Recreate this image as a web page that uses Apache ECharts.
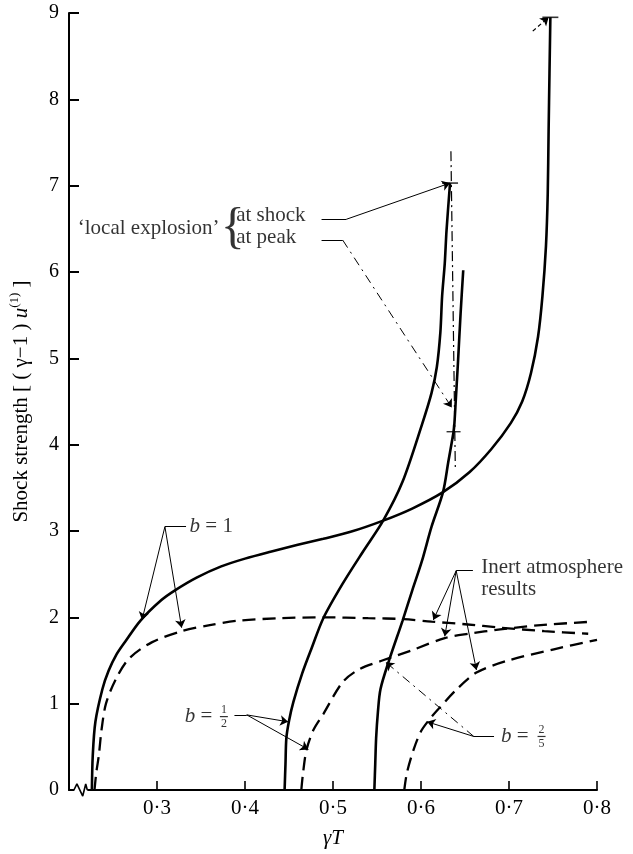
<!DOCTYPE html>
<html>
<head>
<meta charset="utf-8">
<script src="https://cdn.jsdelivr.net/npm/echarts@6/dist/echarts.min.js"></script>
<style>html,body{margin:0;padding:0;background:#fff}#c{width:633px;height:854px}</style>
</head>
<body>
<div id="c"></div>
<script>
// ---- data ----
const xTicks = [0.2, 0.3, 0.4, 0.5, 0.6, 0.7, 0.8];
const yTicks = [0, 1, 2, 3, 4, 5, 6, 7, 8, 9];

const solidB1 = [[0.226,0],[0.227,0.4],[0.230,0.79],[0.238,1.17],[0.245,1.38],[0.254,1.57],[0.264,1.72],[0.281,1.96],[0.305,2.2],[0.320,2.31],[0.345,2.46],[0.373,2.59],[0.40,2.68],[0.429,2.76],[0.46,2.84],[0.489,2.91],[0.52,2.99],[0.557,3.12],[0.59,3.26],[0.625,3.45],[0.655,3.68],[0.68,3.95],[0.702,4.25],[0.715,4.5],[0.725,4.83],[0.733,5.25],[0.738,5.72],[0.742,6.3],[0.744,6.9],[0.745,7.63],[0.746,8.3],[0.747,8.95]];
const solidBHalf = [[0.445,0],[0.446,0.3],[0.447,0.6],[0.450,0.8],[0.455,1.02],[0.465,1.35],[0.476,1.65],[0.489,1.99],[0.511,2.39],[0.534,2.76],[0.557,3.12],[0.579,3.57],[0.601,4.23],[0.612,4.6],[0.618,4.9],[0.622,5.3],[0.624,5.72],[0.627,6.1],[0.629,6.48],[0.633,7.03]];
const solidBTwoFifths = [[0.547,0],[0.548,0.3],[0.549,0.6],[0.551,0.9],[0.554,1.17],[0.564,1.51],[0.579,1.96],[0.590,2.31],[0.601,2.65],[0.612,3.05],[0.625,3.45],[0.631,3.8],[0.637,4.15],[0.638,4.25],[0.640,4.6],[0.642,4.95],[0.645,5.52],[0.648,6.02]];
const inertB1 = [[0.229,0],[0.231,0.2],[0.234,0.41],[0.237,0.7],[0.242,1.0],[0.253,1.28],[0.268,1.52],[0.294,1.71],[0.328,1.84],[0.36,1.91],[0.391,1.96],[0.44,1.99],[0.489,2.0],[0.54,1.99],[0.58,1.98],[0.612,1.95],[0.65,1.92],[0.691,1.88],[0.74,1.84],[0.79,1.81]];
const inertBHalf = [[0.464,0],[0.466,0.2],[0.470,0.47],[0.478,0.7],[0.489,0.88],[0.511,1.25],[0.530,1.4],[0.556,1.5],[0.590,1.62],[0.627,1.76],[0.654,1.81],[0.690,1.86],[0.736,1.91],[0.795,1.95]];
const inertBTwoFifths = [[0.581,0],[0.584,0.2],[0.592,0.48],[0.600,0.68],[0.609,0.81],[0.620,0.94],[0.640,1.16],[0.663,1.36],[0.699,1.5],[0.751,1.63],[0.800,1.74]];
const localExplosionLine = [[0.634,7.4],[0.639,3.72]];
const shockMarks = [[0.633,7.03],[0.747,8.95]];
const peakMark = [[0.637,4.15]];
const axisBreak = [[0.2056,0],[0.209,0.07],[0.2156,-0.07],[0.219,0.07],[0.2208,0]];

// annotation anchors (data coords)
const leaderLines = [
  [[0.487,6.61],[0.515,6.61]],
  [[0.487,6.37],[0.511,6.37]],
  [[0.309,3.05],[0.333,3.05]],
  [[0.388,0.87],[0.402,0.87]],
  [[0.640,2.54],[0.659,2.54]],
  [[0.660,0.62],[0.683,0.62]]
];
const arrowLines = [
  [[0.515,6.61],[0.633,7.03]],
  [[0.309,3.05],[0.283,1.97]],
  [[0.309,3.05],[0.328,1.88]],
  [[0.402,0.87],[0.449,0.79]],
  [[0.402,0.87],[0.472,0.47]],
  [[0.640,2.54],[0.614,1.97]],
  [[0.640,2.54],[0.627,1.78]],
  [[0.640,2.54],[0.663,1.39]],
  [[0.660,0.62],[0.607,0.79]]
];
const dashDotArrows = [
  [[0.511,6.37],[0.635,4.43]],
  [[0.660,0.62],[0.560,1.48]]
];
const dashedArrows = [
  [[0.727,8.79],[0.745,8.95]]
];
const labelTexts = [
  {text: '‘local explosion’', at: [0.371,6.50], align: 'right'},
  {text: '{', at: [0.386,6.50], align: 'center', brace: true},
  {text: 'at shock', at: [0.390,6.65], align: 'left'},
  {text: 'at peak', at: [0.390,6.40], align: 'left'},
  {text: '{i|b} = 1', at: [0.337,3.05], align: 'left'},
  {text: '{i|b} =', at: [0.3315,0.85], align: 'left'},
  {text: '{i|b} =', at: [0.691,0.62], align: 'left'},
  {text: 'Inert atmosphere\nresults', at: [0.6685,2.45], align: 'left'}
];
const fractions = [
  {num: '1', den: '2', at: [0.376,0.85]},
  {num: '2', den: '5', at: [0.737,0.62]}
];

// ---- chart ----
const FONT = '"Liberation Serif", "DejaVu Serif", serif';
const chart = echarts.init(document.getElementById('c'));

const solidStyle = {color: '#000', width: 2.6};
const dashStyle = {color: '#000', width: 2.3, type: [13, 7]};

function curve(data, style) {
  return {type: 'line', data: data, showSymbol: false, symbol: 'none', smooth: 0.3,
    lineStyle: style, itemStyle: {color: '#000'}, z: 3, silent: true, clip: false};
}

const richBase = {
  i: {fontFamily: FONT, fontStyle: 'italic', fontSize: 21, color: '#000'}
};

option = {
  animation: false,
  backgroundColor: '#fff',
  grid: {left: 62, right: 36, top: 13, bottom: 56},
  xAxis: {
    type: 'value', min: xTicks[0], max: xTicks[xTicks.length - 1], interval: 0.1,
    splitLine: {show: false},
    axisLine: {lineStyle: {color: '#000', width: 2}},
    axisTick: {inside: true, length: 9, lineStyle: {color: '#000', width: 1.6}},
    axisLabel: {
      color: '#000', fontFamily: FONT, fontSize: 21, margin: 8,
      formatter: function (v) { return Math.abs(v - xTicks[0]) < 1e-9 ? '' : v.toFixed(1).replace('.', '·'); }
    },
    name: 'γT', nameLocation: 'middle', nameGap: 38,
    nameTextStyle: {color: '#000', fontFamily: FONT, fontStyle: 'italic', fontSize: 21}
  },
  yAxis: {
    type: 'value', min: yTicks[0], max: yTicks[yTicks.length - 1], interval: 1,
    splitLine: {show: false},
    axisLine: {lineStyle: {color: '#000', width: 2}},
    axisTick: {inside: true, length: 10, lineStyle: {color: '#000', width: 2}},
    axisLabel: {color: '#000', fontFamily: FONT, fontSize: 20, margin: 10},
    name: '{a|Shock strength [ ( γ−1 ) }{u|u}{s|(1)}{a| ]}',
    nameLocation: 'middle', nameGap: 35, nameRotate: 90,
    nameTextStyle: {
      color: '#000', fontFamily: FONT, fontSize: 21,
      rich: {
        a: {fontFamily: FONT, fontSize: 21, color: '#000', lineHeight: 26},
        u: {fontFamily: FONT, fontSize: 21, fontStyle: 'italic', color: '#000', lineHeight: 26},
        s: {fontFamily: FONT, fontSize: 13, color: '#000', lineHeight: 15, verticalAlign: 'top'}
      }
    }
  },
  series: [
    // axis break
    {type: 'line', data: [[axisBreak[0][0] + 0.0005, 0], [axisBreak[axisBreak.length - 1][0], 0]], symbol: 'none',
      lineStyle: {color: '#fff', width: 4}, clip: false, silent: true, z: 2},
    {type: 'line', data: axisBreak, symbol: 'none', lineStyle: {color: '#000', width: 1.6}, clip: false, silent: true, z: 3},
    curve(solidB1, solidStyle),
    curve(solidBHalf, solidStyle),
    curve(solidBTwoFifths, solidStyle),
    curve(inertB1, dashStyle),
    curve(inertBHalf, dashStyle),
    curve(inertBTwoFifths, dashStyle),
    {type: 'line', data: localExplosionLine, symbol: 'none', silent: true, z: 3,
      lineStyle: {color: '#000', width: 1.2, type: [10, 4, 2, 4]}},
    // end-cap marks
    {type: 'scatter', data: shockMarks, symbol: 'rect', symbolSize: [16, 1.6], itemStyle: {color: '#000'}, silent: true, z: 4},
    {type: 'scatter', data: peakMark, symbol: 'rect', symbolSize: [14, 1.4], itemStyle: {color: '#000'}, silent: true, z: 4},
    {type: 'scatter', data: peakMark, symbol: 'rect', symbolSize: [1.4, 14], itemStyle: {color: '#000'}, silent: true, z: 4},
    // leaders
    {type: 'lines', coordinateSystem: 'cartesian2d', silent: true, z: 4,
      data: leaderLines.map(c => ({coords: c})), symbol: 'none',
      lineStyle: {color: '#000', width: 1, opacity: 1}},
    {type: 'lines', coordinateSystem: 'cartesian2d', silent: true, z: 4,
      data: arrowLines.map(c => ({coords: c})), symbol: ['none', 'arrow'], symbolSize: [0, 8],
      lineStyle: {color: '#000', width: 1, opacity: 1}},
    {type: 'lines', coordinateSystem: 'cartesian2d', silent: true, z: 4,
      data: dashDotArrows.map(c => ({coords: c})), symbol: ['none', 'arrow'], symbolSize: [0, 8],
      lineStyle: {color: '#000', width: 1, opacity: 1, type: [9, 5, 2, 5]}},
    {type: 'lines', coordinateSystem: 'cartesian2d', silent: true, z: 4,
      data: dashedArrows.map(c => ({coords: c})), symbol: ['none', 'arrow'], symbolSize: [0, 8],
      lineStyle: {color: '#000', width: 1.2, opacity: 1, type: [4, 3]}},
    // text annotations
    {type: 'scatter', symbolSize: 0, silent: true, z: 5, clip: false,
      data: labelTexts.map(t => ({
        value: t.at,
        label: {
          show: true, position: [0, 0], align: t.align, verticalAlign: 'middle',
          formatter: t.text, color: '#000', fontFamily: FONT,
          fontSize: t.brace ? 50 : 21, lineHeight: t.brace ? 50 : 22,
          rich: richBase
        }
      }))},
    {type: 'scatter', symbolSize: 0, silent: true, z: 5, clip: false,
      data: fractions.map(f => ({
        value: f.at,
        label: {
          show: true, position: [0, 0], align: 'center', verticalAlign: 'middle',
          formatter: '{n|' + f.num + '}\n{bar|}\n{n|' + f.den + '}',
          rich: {
            n: {fontFamily: FONT, fontSize: 12, lineHeight: 11, color: '#000', align: 'center'},
            bar: {width: 8, height: 1.2, lineHeight: 3, backgroundColor: '#000', align: 'center'}
          }
        }
      }))}
  ]
};
chart.setOption(option);
</script>
</body>
</html>
